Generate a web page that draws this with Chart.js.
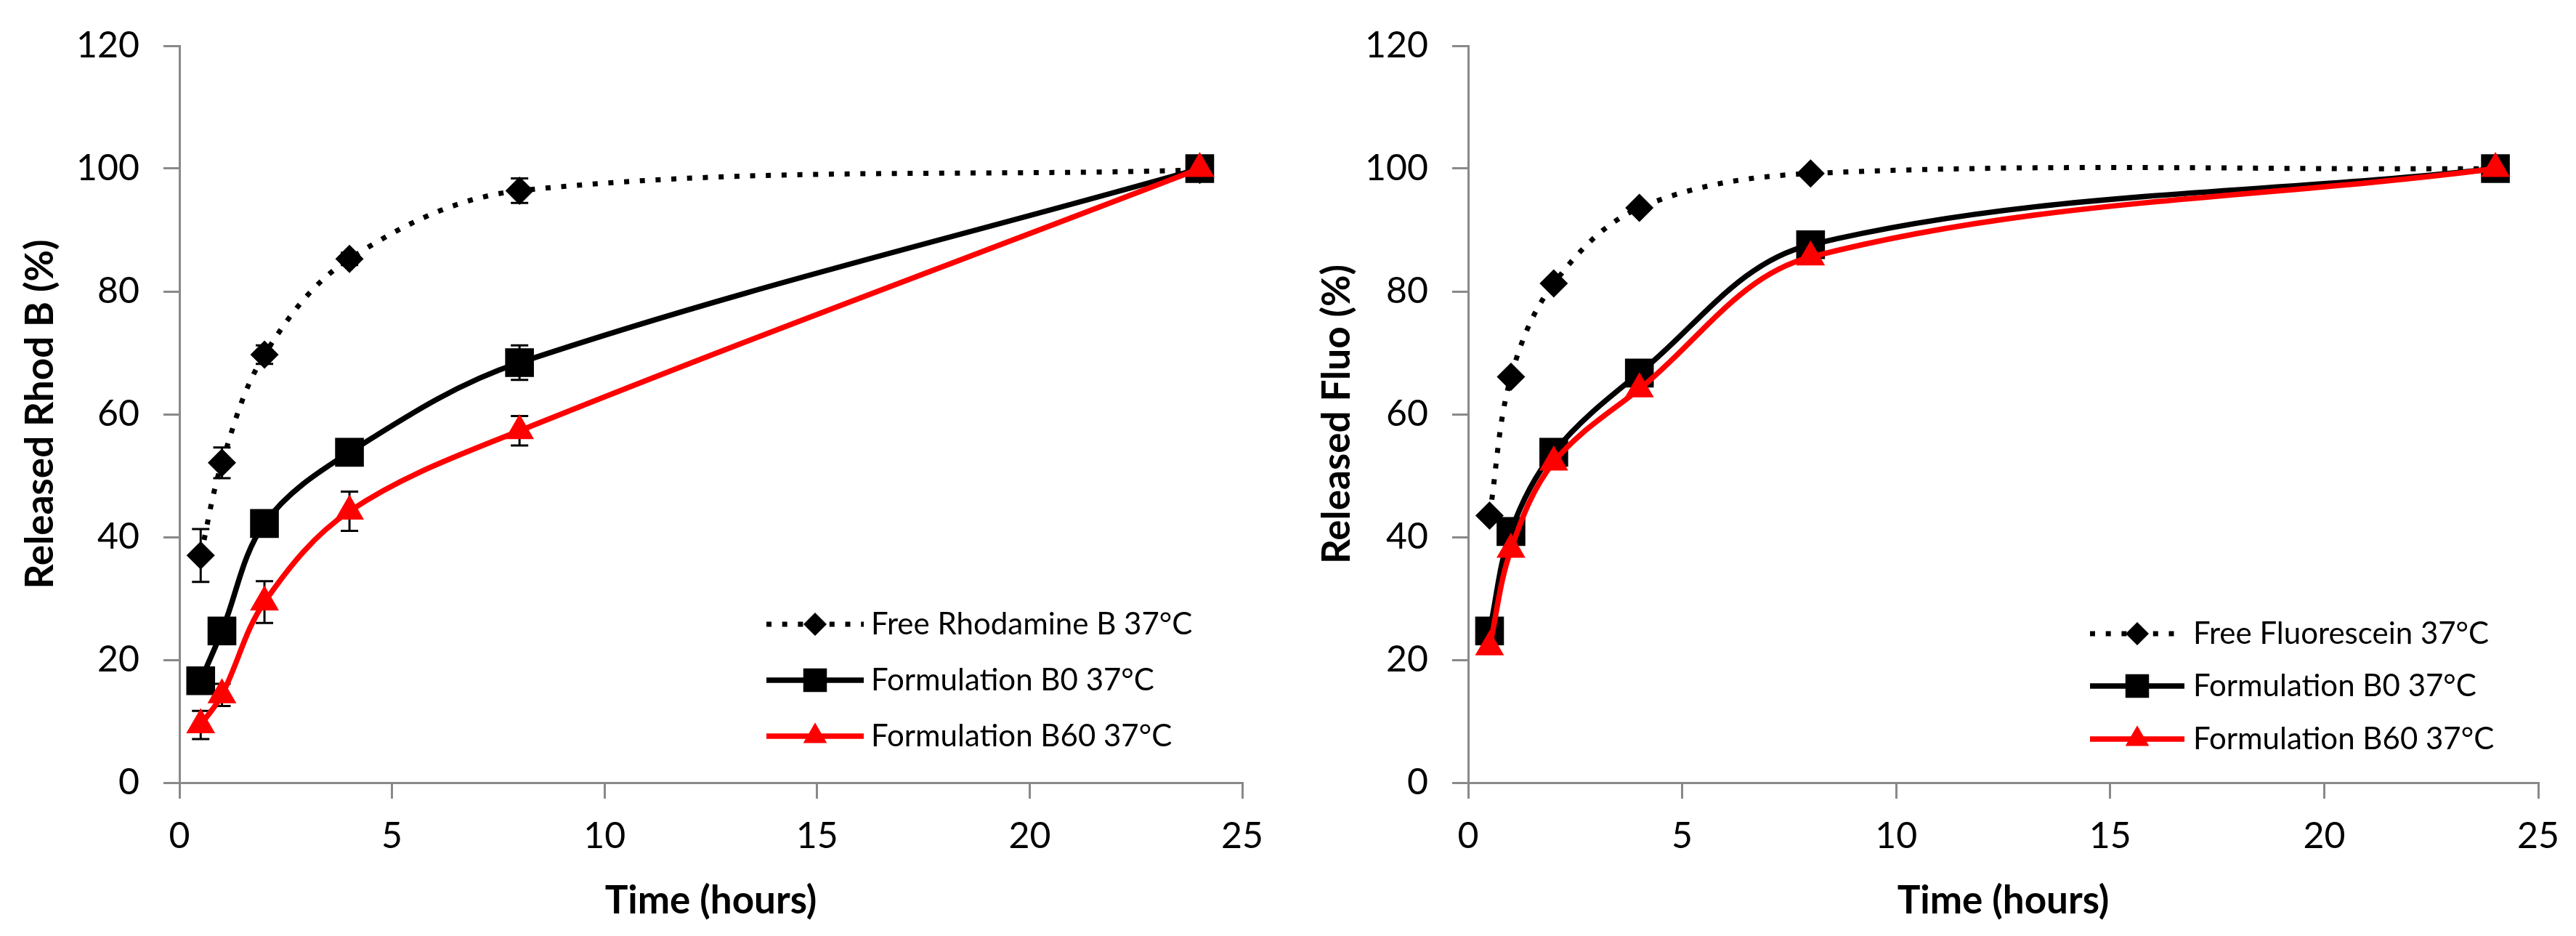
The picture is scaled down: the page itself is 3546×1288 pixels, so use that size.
<!DOCTYPE html>
<html>
<head>
<meta charset="utf-8">
<script src="https://cdn.jsdelivr.net/npm/chart.js@4.4.1/dist/chart.umd.min.js"></script>
<style>
  html, body { margin: 0; padding: 0; background: #fff; }
  #wrap { position: relative; width: 3546px; height: 1288px; }
  canvas { position: absolute; top: 0; }
</style>
</head>
<body>
<div id="wrap">
  <canvas id="rhodChart" width="1773" height="1288" style="left:0"></canvas>
  <canvas id="fluoChart" width="1773" height="1288" style="left:1773px"></canvas>
</div>
<script>
// sampling times (hours)
const timePoints = [0.5, 1, 2, 4, 8, 24];

// Rhodamine B release (%) and error bars
const freeRhod    = [37.0, 52.1, 69.7, 85.3, 96.4, 99.8];
const freeRhodErr = [4.3, 2.5, 1.5, 1.0, 2.0, 0.5];
const b0Rhod      = [16.6, 24.7, 42.2, 53.8, 68.4, 100];
const b0RhodErr   = [1.0, 1.0, 1.0, 1.0, 2.8, 0.5];
const b60Rhod     = [9.4, 14.3, 29.4, 44.2, 57.3, 100];
const b60RhodErr  = [2.3, 1.8, 3.4, 3.2, 2.4, 0.5];

// Fluorescein release (%)
const freeFluo = [43.5, 66.1, 81.3, 93.6, 99.2, 100];
const b0Fluo   = [24.7, 40.9, 53.8, 66.7, 87.6, 100];
const b60Fluo  = [22.1, 38.0, 52.2, 64.1, 85.6, 100];

const xTicks = [0, 5, 10, 15, 20, 25];
const yTicks = [0, 20, 40, 60, 80, 100, 120];

const FONT = 'Lato, "Open Sans", sans-serif';
const AXIS_GREY = '#898989';

function toPoints(ys) {
    return timePoints.map((t, i) => ({ x: t, y: ys[i] }));
}

// vertical error bars, drawn under the lines
const errorBars = {
    id: 'errorBars',
    beforeDatasetsDraw(chart) {
        const ctx = chart.ctx;
        const xs = chart.scales.x, ys = chart.scales.y;
        ctx.save();
        ctx.strokeStyle = '#000';
        ctx.lineWidth = 3;
        chart.data.datasets.forEach(ds => {
            if (!ds.errors) return;
            ds.data.forEach((p, i) => {
                const e = ds.errors[i];
                if (!e) return;
                const px = xs.getPixelForValue(p.x);
                const top = ys.getPixelForValue(p.y + e);
                const bot = ys.getPixelForValue(p.y - e);
                ctx.beginPath();
                ctx.moveTo(px, top); ctx.lineTo(px, bot);
                ctx.moveTo(px - 12, top); ctx.lineTo(px + 12, top);
                ctx.moveTo(px - 12, bot); ctx.lineTo(px + 12, bot);
                ctx.stroke();
            });
        });
        ctx.restore();
    }
};

// legend inside the plot, Excel style
const seriesKey = {
    id: 'seriesKey',
    afterDatasetsDraw(chart, args, opts) {
        const ctx = chart.ctx;
        ctx.save();
        chart.data.datasets.forEach((ds, i) => {
            const y = opts.rows[i];
            ctx.beginPath();
            ctx.strokeStyle = ds.borderColor;
            ctx.lineWidth = ds.borderWidth;
            ctx.setLineDash(ds.borderDash || []);
            ctx.moveTo(opts.x, y);
            ctx.lineTo(opts.x + opts.len, y);
            ctx.stroke();
            ctx.setLineDash([]);
            ctx.fillStyle = ds.pointBackgroundColor;
            Chart.helpers.drawPoint(ctx, {
                pointStyle: ds.pointStyle,
                radius: ds.pointRadius * 0.82,
                borderWidth: 0,
                rotation: 0
            }, opts.x + opts.len / 2, y);
            ctx.fillStyle = '#000';
            ctx.font = '42px ' + FONT;
            ctx.textBaseline = 'middle';
            ctx.textAlign = 'left';
            ctx.fillText(ds.label, opts.textX, y);
        });
        ctx.restore();
    }
};

function series(label, ys, errs, kind) {
    const ds = {
        label: label,
        data: toPoints(ys),
        errors: errs,
        showLine: true,
        tension: 0.35,
        pointBorderWidth: 0,
        borderCapStyle: 'butt'
    };
    if (kind === 'free') {
        Object.assign(ds, { borderColor: '#000', pointBackgroundColor: '#000', borderWidth: 7,
            borderDash: [7, 14.7], pointStyle: 'rectRot', pointRadius: 19.5, order: 2 });
    } else if (kind === 'b0') {
        Object.assign(ds, { borderColor: '#000', pointBackgroundColor: '#000', borderWidth: 7.5,
            pointStyle: 'rect', pointRadius: 28, order: 1 });
    } else {
        Object.assign(ds, { borderColor: '#ff0000', pointBackgroundColor: '#ff0000', borderWidth: 7.5,
            pointStyle: 'triangle', pointRadius: 23, order: 0 });
    }
    return ds;
}

function makeChart(id, cfg) {
    return new Chart(document.getElementById(id), {
        type: 'scatter',
        data: { datasets: cfg.datasets },
        options: {
            responsive: false,
            animation: false,
            devicePixelRatio: 1,
            layout: { padding: { left: 0, right: cfg.padRight, top: 42.5, bottom: 0 } },
            plugins: {
                legend: { display: false },
                tooltip: { enabled: false },
                seriesKey: cfg.key
            },
            scales: {
                x: {
                    type: 'linear', min: 0, max: 25,
                    afterBuildTicks: s => { s.ticks = xTicks.map(v => ({ value: v })); },
                    afterFit: s => { s.height = 211; },
                    grid: { drawOnChartArea: false, drawTicks: true, tickLength: 22, color: AXIS_GREY, lineWidth: 3 },
                    border: { color: AXIS_GREY, width: 3 },
                    ticks: { color: '#000', font: { size: 50, family: FONT }, padding: 22, maxRotation: 0 },
                    title: { display: true, text: 'Time (hours)', color: '#000',
                        font: { size: 53, weight: 'bold', family: FONT }, padding: { top: 0, bottom: 16 } }
                },
                y: {
                    min: 0, max: 120,
                    afterBuildTicks: s => { s.ticks = yTicks.map(v => ({ value: v })); },
                    afterFit: s => { s.width = cfg.yWidth; },
                    grid: { drawOnChartArea: false, drawTicks: true, tickLength: 22, color: AXIS_GREY, lineWidth: 3 },
                    border: { color: AXIS_GREY, width: 3 },
                    ticks: { color: '#000', font: { size: 50, family: FONT }, padding: 33 },
                    title: { display: true, text: cfg.yTitle, color: '#000',
                        font: { size: 53, weight: 'bold', family: FONT }, padding: { top: cfg.yTitlePad, bottom: 0 } }
                }
            }
        },
        plugins: [errorBars, seriesKey]
    });
}

makeChart('rhodChart', {
    yTitle: 'Released Rhod B (%)',
    yWidth: 247, yTitlePad: 24, padRight: 63,
    key: { x: 1055, len: 134, textX: 1199, rows: [859, 936, 1013] },
    datasets: [
        series('Free Rhodamine B 37°C', freeRhod, freeRhodErr, 'free'),
        series('Formulation B0 37°C', b0Rhod, b0RhodErr, 'b0'),
        series('Formulation B60 37°C', b60Rhod, b60RhodErr, 'b60')
    ]
});

makeChart('fluoChart', {
    yTitle: 'Released Fluo (%)',
    yWidth: 248, yTitlePad: 36, padRight: 52,
    key: { x: 1104, len: 130, textX: 1246, rows: [872, 944, 1017] },
    datasets: [
        series('Free Fluorescein 37°C', freeFluo, null, 'free'),
        series('Formulation B0 37°C', b0Fluo, null, 'b0'),
        series('Formulation B60 37°C', b60Fluo, null, 'b60')
    ]
});
</script>
</body>
</html>
